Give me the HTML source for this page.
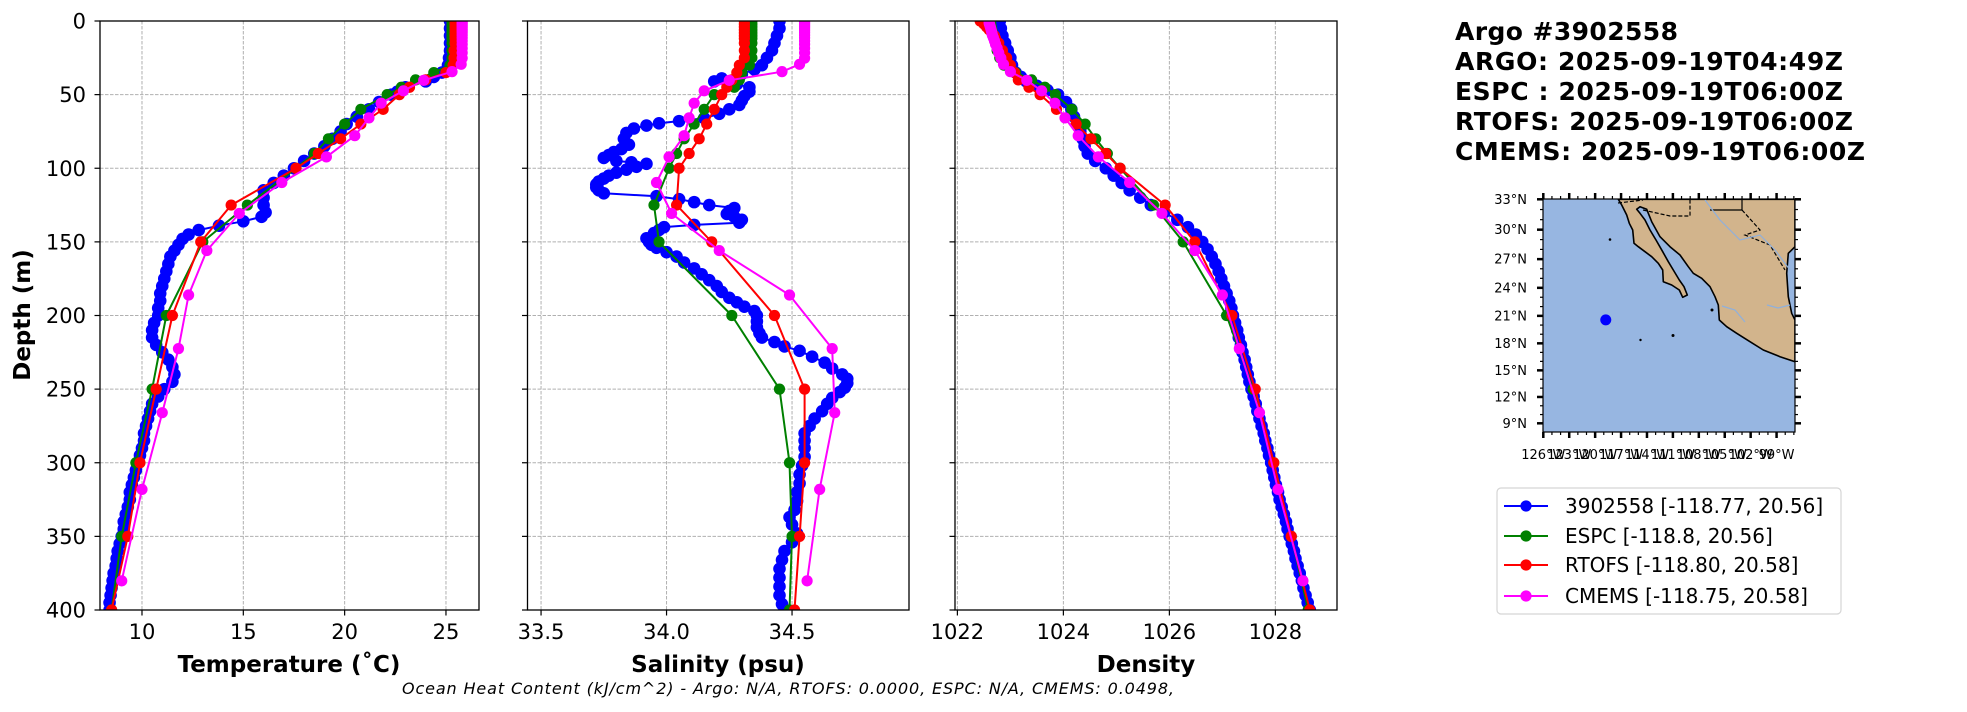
<!DOCTYPE html>
<html><head><meta charset="utf-8"><style>
html,body{margin:0;padding:0;background:#fff;}
svg{display:block;font-family:"DejaVu Sans","Liberation Sans",sans-serif;}
</style></head><body>
<svg id="fig" width="1967" height="712" viewBox="0 0 1967 712" xmlns="http://www.w3.org/2000/svg">
<defs>
<clipPath id="clipT"><rect x="100" y="21" width="379" height="589"/></clipPath>
<clipPath id="clipS"><rect x="527.5" y="21" width="381.5" height="589"/></clipPath>
<clipPath id="clipD"><rect x="955" y="21" width="382" height="589"/></clipPath>
<clipPath id="clipM"><rect x="1543" y="199" width="252" height="233"/></clipPath>
</defs>
<g id="grids"></g>
<g id="series"></g>
<g id="frames" fill="none" stroke="#000" stroke-width="1.3">
<rect x="100" y="21" width="379" height="589"/>
<rect x="527.5" y="21" width="381.5" height="589"/>
<rect x="955" y="21" width="382" height="589"/>
</g>
<g id="ticks"></g>
<g font-size="23" font-weight="bold" text-anchor="middle" fill="#000">
<text x="289" y="672">Temperature (˚C)</text>
<text x="718" y="672">Salinity (psu)</text>
<text x="1146" y="672">Density</text>
<text x="0" y="0" transform="translate(30,315) rotate(-90)">Depth (m)</text>
</g>
<text x="788" y="694" font-size="16" font-style="italic" text-anchor="middle" textLength="772">Ocean Heat Content (kJ/cm^2) - Argo: N/A,  RTOFS: 0.0000,  ESPC: N/A,  CMEMS: 0.0498,</text>
<g font-size="25" font-weight="bold" fill="#000">
<text x="1455" y="40" textLength="223">Argo #3902558</text>
<text x="1455" y="70" textLength="388">ARGO: 2025-09-19T04:49Z</text>
<text x="1455" y="100" textLength="388">ESPC : 2025-09-19T06:00Z</text>
<text x="1455" y="130" textLength="398">RTOFS: 2025-09-19T06:00Z</text>
<text x="1455" y="160" textLength="410">CMEMS: 2025-09-19T06:00Z</text>
</g>
<g id="map">
<rect x="1543" y="199" width="252" height="233" fill="#97b6e1"/>
<g clip-path="url(#clipM)">
<polygon fill="#d2b48c" stroke="#000" stroke-width="1.6" stroke-linejoin="round" points="1618.3,199.3 1621.7,205 1626.7,215 1629.3,223.3 1632.7,230 1634,243.3 1638.3,246.7 1645,251.7 1651.7,256.7 1658.3,263.3 1662.7,270 1663.3,281.7 1671.7,285 1679.3,290 1682.7,297.3 1687.3,295 1684,286.7 1679.3,280 1673.3,270 1668.3,261.7 1662.7,251.7 1656,240 1650,230 1645,220 1640,213.3 1636.7,209.3 1640,206.7 1646.7,209.3 1651.7,221.7 1660,236.7 1670,246.7 1680,255 1688.3,266.7 1693.3,273.3 1701.7,278.3 1710,286.7 1715,296.7 1718.3,305 1719.3,320 1726.7,326.7 1736.7,333.3 1750,341.7 1763.3,350 1780,356.7 1795,361.7 1795,320 1791.7,313.3 1788.3,296.7 1786.7,273.3 1788.3,253.3 1795,246.7 1795,199.3"/>
<circle cx="1610" cy="239.5" r="1.3" fill="#000"/>
<circle cx="1640.5" cy="340" r="1.2" fill="#000"/>
<circle cx="1673" cy="335.5" r="1.5" fill="#000"/>
<circle cx="1712" cy="310" r="1.5" fill="#000"/>
<polyline fill="none" stroke="#000" stroke-width="1.2" stroke-dasharray="4,2" points="1618,203 1643,200"/>
<polyline fill="none" stroke="#000" stroke-width="1.2" stroke-dasharray="4,2" points="1643,210 1670,216 1690,216 1690,199"/>
<polyline fill="none" stroke="#000" stroke-width="1.2" points="1710,210 1742,210 1742,199"/>
<polyline fill="none" stroke="#000" stroke-width="1.2" stroke-dasharray="4,2" points="1742,210 1760,230 1745,235 1770,245 1785,270"/>
<polyline fill="none" stroke="#8fb0dc" stroke-width="1.2" points="1722,306 1735,310 1745,322"/>
<polyline fill="none" stroke="#8fb0dc" stroke-width="1.2" points="1767,305 1778,308 1790,305"/>
<polyline fill="none" stroke="#8fb0dc" stroke-width="1.2" points="1705,200 1720,220 1740,240 1760,235 1775,250 1790,270"/>
</g>
<rect x="1543" y="199" width="252" height="233" fill="none" stroke="#000" stroke-width="1.2"/>
<g id="mapticks"></g>
<circle id="float-dot" r="5.5" fill="#0000ff"/>
</g>
<g id="legend">
<rect x="1497" y="488" width="344" height="126" rx="4" fill="#fff" stroke="#d5d5d5" stroke-width="1.2"/>
</g>
</svg>
<script>
// ---------- data ----------
const modelDepths=[0,2,4,6,8,10,12,15,20,25,30,35,40,45,50,60,70,80,90,100,125,150,200,250,300,350,400];
const espcTemp=[25.3,25.3,25.3,25.3,25.3,25.3,25.3,25.3,25.3,25.3,25.2,24.4,23.5,22.8,22.1,20.8,20.0,19.2,18.5,17.6,15.2,13.0,11.2,10.5,9.7,9.0,8.5];
const rtofsTemp=[25.45,25.45,25.45,25.45,25.45,25.45,25.45,25.45,25.4,25.4,25.35,25.0,24.0,23.2,22.7,21.9,20.8,19.8,18.7,17.6,14.4,12.9,11.5,10.7,9.9,9.3,8.5];
const espcSal=[34.34,34.34,34.34,34.34,34.34,34.34,34.34,34.34,34.34,34.34,34.33,34.30,34.29,34.27,34.19,34.15,34.11,34.07,34.04,34.01,33.95,33.97,34.26,34.45,34.49,34.50,34.49];
const rtofsSal=[34.31,34.31,34.31,34.31,34.31,34.31,34.31,34.31,34.31,34.31,34.29,34.28,34.26,34.24,34.22,34.19,34.16,34.13,34.09,34.05,34.04,34.18,34.43,34.55,34.55,34.53,34.51];
const espcDens=[1022.62,1022.63,1022.64,1022.65,1022.66,1022.68,1022.7,1022.72,1022.75,1022.8,1022.88,1023.1,1023.4,1023.65,1023.85,1024.16,1024.41,1024.61,1024.83,1025.07,1025.7,1026.26,1027.08,1027.58,1027.97,1028.3,1028.62];
const rtofsDens=[1022.43,1022.5,1022.55,1022.6,1022.65,1022.7,1022.72,1022.78,1022.85,1022.93,1023.0,1023.08,1023.15,1023.35,1023.56,1023.87,1024.24,1024.52,1024.8,1025.07,1025.92,1026.48,1027.18,1027.62,1027.97,1028.3,1028.65];
const cmemsDepths=[0.5,1.5,2.6,3.8,5.1,6.4,7.9,9.6,11.4,13.5,15.8,18.5,21.6,25.2,29.4,34.4,40.3,47.4,55.8,65.8,77.9,92.3,109.7,130.7,155.9,186.1,222.5,266.0,318.1,380.2];
const cmemsTemp=[25.8,25.8,25.8,25.8,25.8,25.8,25.8,25.8,25.8,25.8,25.8,25.8,25.8,25.8,25.75,25.3,23.9,22.9,21.8,21.2,20.5,19.1,16.9,14.8,13.2,12.3,11.8,11.0,10.0,9.0];
const cmemsSal=[34.55,34.55,34.55,34.55,34.55,34.55,34.55,34.55,34.55,34.55,34.55,34.55,34.55,34.55,34.53,34.46,34.25,34.15,34.11,34.09,34.07,34.01,33.96,34.02,34.21,34.49,34.66,34.67,34.61,34.56];
const cmemsDens=[1022.6,1022.6,1022.61,1022.62,1022.63,1022.64,1022.65,1022.66,1022.68,1022.7,1022.72,1022.75,1022.78,1022.82,1022.87,1023.0,1023.31,1023.59,1023.84,1024.03,1024.28,1024.66,1025.25,1025.86,1026.48,1027.0,1027.32,1027.7,1028.05,1028.52];
const argoTempDepths=[0,5,10,15,20,25,30,35,38,41,45,48,50,55,60,65,70,75,80,85,90,95,100,105,110,115,120,125,130,133,136,139,142,145,148,152,156,160,165,170,175,180,185,190,195,200,205,210,215,220,225,230,235,240,245,250,255,260,265,270,275,280,285,290,295,300,305,310,315,320,325,330,335,340,345,350,355,360,365,370,375,380,385,390,395,400];
const argoTemp=[25.2,25.2,25.2,25.2,25.2,25.15,25.1,24.8,24.4,24.0,23.0,22.6,22.3,21.7,21.2,20.6,20.1,19.8,19.4,19.0,18.5,18.0,17.5,17.0,16.5,16.0,16.0,16.0,16.1,15.9,15.0,13.8,12.8,12.3,12.0,11.8,11.6,11.4,11.3,11.2,11.1,11.0,10.9,10.9,10.8,10.8,10.6,10.5,10.5,10.7,11.0,11.3,11.5,11.6,11.5,11.1,10.8,10.5,10.4,10.3,10.2,10.1,10.1,10.0,9.9,9.8,9.7,9.6,9.5,9.4,9.4,9.3,9.2,9.1,9.1,9.0,8.9,8.8,8.75,8.7,8.6,8.55,8.5,8.45,8.4,8.4];
const argoSalDepths=[0,5,10,15,20,25,30,33,36,39,41,43,45,48,51,54,57,60,63,66,68,69.5,71,73,76,80,84,87,89,91,93,95,96,97,99,101,103,105,107,109,111,113,115,117,119,121,123,125,127,129,131,133,135,137,138.5,140,142,144,147.6,150,152,154,157,160,164,168,172,176,180,184,188,191,194,197,200,204,208,212,215,218,221,224,228,232,236,240,243,246,249,252,256,260,265,270,275,280,285,290,296,302,308,314,320,326,332,337,342,348,354,360,366,372,378,384,390,396,400];
const argoSal=[34.45,34.45,34.44,34.43,34.42,34.40,34.38,34.35,34.30,34.22,34.19,34.28,34.33,34.33,34.31,34.30,34.29,34.25,34.21,34.15,34.05,33.97,33.92,33.87,33.84,33.83,33.85,33.82,33.79,33.77,33.75,33.80,33.86,33.92,33.88,33.84,33.80,33.77,33.75,33.73,33.72,33.72,33.73,33.75,33.96,34.05,34.11,34.17,34.27,34.25,34.24,34.27,34.30,34.29,34.11,33.99,33.97,33.95,33.92,33.93,33.94,33.96,34.00,34.04,34.07,34.11,34.14,34.17,34.20,34.22,34.25,34.28,34.31,34.35,34.36,34.36,34.36,34.37,34.38,34.43,34.47,34.53,34.58,34.63,34.66,34.70,34.72,34.72,34.71,34.69,34.66,34.64,34.62,34.59,34.57,34.55,34.55,34.55,34.55,34.54,34.53,34.53,34.52,34.52,34.51,34.49,34.50,34.52,34.50,34.47,34.46,34.45,34.45,34.45,34.45,34.46,34.47];
const argoDensDepths=[0,5,10,15,20,25,30,35,38,41,44,47,50,55,60,65,70,75,80,85,90,95,100,105,110,115,120,125,130,135,140,145,150,155,160,165,170,175,180,185,190,195,200,205,210,215,220,225,230,235,240,245,250,255,260,265,270,275,280,285,290,295,300,305,310,315,320,325,330,335,340,345,350,355,360,365,370,375,380,385,390,395,400];
const argoDens=[1022.8,1022.82,1022.85,1022.9,1022.95,1023.0,1023.03,1023.1,1023.2,1023.3,1023.5,1023.7,1023.9,1024.05,1024.15,1024.2,1024.27,1024.32,1024.36,1024.4,1024.46,1024.6,1024.8,1024.95,1025.1,1025.25,1025.45,1025.65,1025.9,1026.15,1026.35,1026.5,1026.62,1026.72,1026.8,1026.87,1026.93,1026.98,1027.03,1027.08,1027.13,1027.17,1027.2,1027.24,1027.28,1027.31,1027.35,1027.38,1027.42,1027.45,1027.48,1027.51,1027.55,1027.59,1027.63,1027.66,1027.7,1027.74,1027.78,1027.81,1027.85,1027.88,1027.92,1027.95,1027.98,1028.01,1028.05,1028.08,1028.12,1028.16,1028.2,1028.23,1028.27,1028.31,1028.35,1028.38,1028.42,1028.46,1028.5,1028.53,1028.57,1028.61,1028.65];
const depthTicks=[0,50,100,150,200,250,300,350,400];
const tempTicks=[10,15,20,25];
const salTicks=[33.5,34.0,34.5];
const salTickLabels=["33.5","34.0","34.5"];
const densTicks=[1022,1024,1026,1028];
const legendLabels=["3902558 [-118.77, 20.56]","ESPC [-118.8, 20.56]","RTOFS [-118.80, 20.58]","CMEMS [-118.75, 20.58]"];
const seriesColors=["#0000ff","#008000","#ff0000","#ff00ff"];
const floatLon=-118.77, floatLat=20.56;
const latTicks=[33,30,27,24,21,18,15,12,9];
const lonTicks=[126,123,120,117,114,111,108,105,102,99];

// ---------- scales ----------
const NS="http://www.w3.org/2000/svg";
const axT={x0:100,x1:479,d0:7.928,d1:26.63,clip:"clipT"};
const axS={x0:527.5,x1:909,d0:33.446,d1:34.966,clip:"clipS"};
const axD={x0:955,x1:1337,d0:1021.955,d1:1029.163,clip:"clipD"};
function sx(ax,v){return ax.x0+(v-ax.d0)/(ax.d1-ax.d0)*(ax.x1-ax.x0);}
function sy(d){return 21+d/400*589;}
function mk(tag,attrs,parent){const e=document.createElementNS(NS,tag);for(const k in attrs)e.setAttribute(k,attrs[k]);parent.appendChild(e);return e;}
const grids=document.getElementById('grids'),ticks=document.getElementById('ticks'),series=document.getElementById('series');

function axisDecor(ax,xt,xl,name,yLabels){
  for(let i=0;i<xt.length;i++){
    const x=sx(ax,xt[i]);
    const g=mk('line',{x1:x,x2:x,y1:21,y2:610,stroke:'#b0b0b0','stroke-width':1,'stroke-dasharray':'3.5,1.5'},grids);
    
    
    const t=mk('line',{x1:x,x2:x,y1:610,y2:615.5,stroke:'#000','stroke-width':1.2},ticks);
    
    
    const l=mk('text',{x:x,y:639,'font-size':21,'text-anchor':'middle',fill:'#000'},ticks);
    l.textContent=xl[i];
    
    
  }
  for(const d of depthTicks){
    const y=sy(d);
    const g=mk('line',{x1:ax.x0,x2:ax.x1,y1:y,y2:y,stroke:'#b0b0b0','stroke-width':1,'stroke-dasharray':'3.5,1.5'},grids);
    
    
    const t=mk('line',{x1:ax.x0-5.5,x2:ax.x0,y1:y,y2:y,stroke:'#000','stroke-width':1.2},ticks);
    
    
    if(yLabels){
      const l=mk('text',{x:86,y:y+7.5,'font-size':21,'text-anchor':'end',fill:'#000'},ticks);
      l.textContent=String(d);
      
      
    }
  }
}
axisDecor(axT,tempTicks,tempTicks.map(String),'temperature',true);
axisDecor(axS,salTicks,salTickLabels,'salinity',false);
axisDecor(axD,densTicks,densTicks.map(String),'density',false);

function drawSeries(ax,depths,vals,color,name,r){
  const g=mk('g',{'clip-path':'url(#'+ax.clip+')'},series);
  
  
  const pts=depths.map((d,i)=>sx(ax,vals[i]).toFixed(1)+','+sy(d).toFixed(1)).join(' ');
  const pl=mk('polyline',{points:pts,fill:'none',stroke:color,'stroke-width':2,'stroke-linejoin':'round'},g);
  
  
  for(let i=0;i<depths.length;i++){
    const c=mk('circle',{cx:sx(ax,vals[i]),cy:sy(depths[i]),r:r,fill:color},g);
    
    
  }
}
drawSeries(axT,argoTempDepths,argoTemp,seriesColors[0],'argo-temperature',6.3);
drawSeries(axT,modelDepths,espcTemp,seriesColors[1],'espc-temperature',5.6);
drawSeries(axT,modelDepths,rtofsTemp,seriesColors[2],'rtofs-temperature',5.6);
drawSeries(axT,cmemsDepths,cmemsTemp,seriesColors[3],'cmems-temperature',5.6);
drawSeries(axS,argoSalDepths,argoSal,seriesColors[0],'argo-salinity',6.3);
drawSeries(axS,modelDepths,espcSal,seriesColors[1],'espc-salinity',5.6);
drawSeries(axS,modelDepths,rtofsSal,seriesColors[2],'rtofs-salinity',5.6);
drawSeries(axS,cmemsDepths,cmemsSal,seriesColors[3],'cmems-salinity',5.6);
drawSeries(axD,argoDensDepths,argoDens,seriesColors[0],'argo-density',6.3);
drawSeries(axD,modelDepths,espcDens,seriesColors[1],'espc-density',5.6);
drawSeries(axD,modelDepths,rtofsDens,seriesColors[2],'rtofs-density',5.6);
drawSeries(axD,cmemsDepths,cmemsDens,seriesColors[3],'cmems-density',5.6);

// ---------- map ----------
function merc(lat){return Math.log(Math.tan(Math.PI/4+lat*Math.PI/360));}
function mx(lonW){return 1543.3+(126-lonW)*8.64;}
function my(lat){return 199.3+494.5*(merc(33)-merc(lat));}
const mt=document.getElementById('mapticks');
for(let lat=9;lat<=33;lat++){
  const y=my(lat),major=latTicks.includes(lat);
  const len=major?6:3, w=major?2.5:1.2;
  mk('line',{x1:1543-len,x2:1543,y1:y,y2:y,stroke:'#000','stroke-width':w},mt);
  mk('line',{x1:1795,x2:1795+len,y1:y,y2:y,stroke:'#000','stroke-width':w},mt);
  if(major){
    const l=mk('text',{x:1527,y:y+4.5,'font-size':13,'text-anchor':'end',fill:'#000'},mt);
    l.textContent=lat+'°N';
    
    
  }
}
for(let lon=97;lon<=126;lon++){
  const x=mx(lon),major=lonTicks.includes(lon);
  if(x<1542||x>1796)continue;
  const len=major?6:3, w=major?2.5:1.2;
  mk('line',{x1:x,x2:x,y1:193-(major?0:-3),y2:199,stroke:'#000','stroke-width':w},mt);
  mk('line',{x1:x,x2:x,y1:432,y2:432+len,stroke:'#000','stroke-width':w},mt);
  if(major){
    const l=mk('text',{x:x,y:459,'font-size':13,'text-anchor':'middle',fill:'#000'},mt);
    l.textContent=lon+'°W';
    
    
  }
}
const dot=document.getElementById('float-dot');
dot.setAttribute('cx',mx(-floatLon));
dot.setAttribute('cy',my(floatLat));

// ---------- legend ----------
const lg=document.getElementById('legend');
const legendY=[506,536,565,596];
for(let i=0;i<legendLabels.length;i++){
  const y=legendY[i];
  const ln=mk('line',{x1:1504,x2:1548,y1:y,y2:y,stroke:seriesColors[i],'stroke-width':2},lg);
  
  
  const c=mk('circle',{cx:1526,cy:y,r:5.6,fill:seriesColors[i]},lg);
  
  
  const t=mk('text',{x:1565,y:y+7,'font-size':20,fill:'#000'},lg);
  t.textContent=legendLabels[i];
  
  
}
</script>
</body></html>
